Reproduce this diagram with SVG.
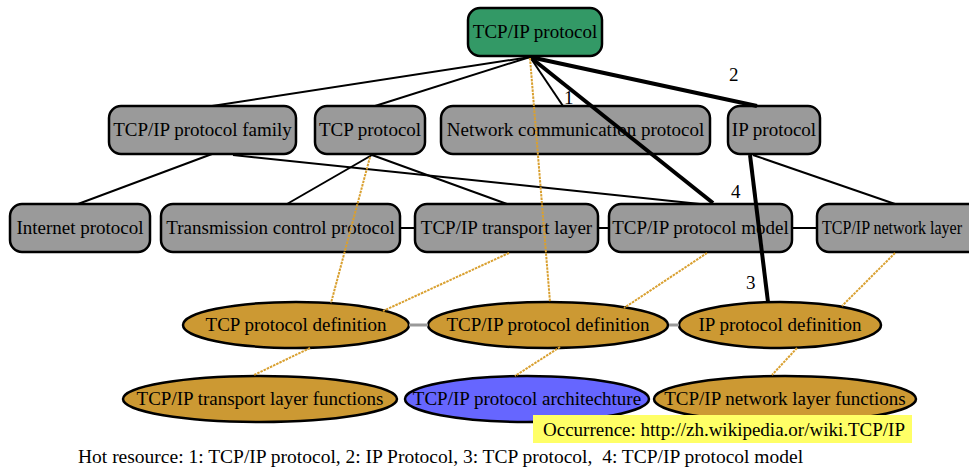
<svg xmlns="http://www.w3.org/2000/svg" width="969" height="470" viewBox="0 0 969 470">
<style>
text{font-family:"Liberation Serif","Times New Roman",serif;font-size:19px;fill:#000}
.c{text-anchor:middle}
.box{fill:#9a9a9a;stroke:#000;stroke-width:2.5}
.root{fill:#339966;stroke:#000;stroke-width:2.5}
.ell{fill:#cc9933;stroke:#000;stroke-width:2.5}
.blue{fill:#6666ff;stroke:#000;stroke-width:2.5}
.e{stroke:#000;stroke-width:2;fill:none}
.t{stroke:#000;stroke-width:4;fill:none}
.g{stroke:#999;stroke-width:3;fill:none}
.o{stroke:#d9a030;stroke-width:2;stroke-dasharray:2.5,1;fill:none}
.num{font-size:19px}
</style>
<rect width="969" height="470" fill="#fff"/>
<g id="n-root"><rect class="root" x="468" y="8" width="134" height="48" rx="12"/><text class="c" x="535" y="38">TCP/IP protocol</text></g>
<g id="n-family"><rect class="box" x="109" y="106" width="187" height="48" rx="12"/><text class="c" x="202.5" y="136">TCP/IP protocol family</text></g>
<g id="n-tcp"><rect class="box" x="315" y="106" width="110" height="48" rx="12"/><text class="c" x="370" y="136">TCP protocol</text></g>
<g id="n-netcomm"><rect class="box" x="441" y="106" width="269" height="48" rx="12"/><text class="c" x="575.5" y="136">Network communication protocol</text></g>
<g id="n-ip"><rect class="box" x="728" y="106" width="92" height="48" rx="12"/><text class="c" x="774" y="136">IP protocol</text></g>
<g id="n-internet"><rect class="box" x="10" y="204" width="140" height="48" rx="12"/><text class="c" x="80" y="234">Internet protocol</text></g>
<g id="n-transmission"><rect class="box" x="161" y="204" width="239" height="48" rx="12"/><text class="c" x="280.5" y="234">Transmission control protocol</text></g>
<g id="n-transport"><rect class="box" x="415" y="204" width="183" height="48" rx="12"/><text class="c" x="506.5" y="234">TCP/IP transport layer</text></g>
<g id="n-model"><rect class="box" x="609" y="204" width="183" height="48" rx="12"/><text class="c" x="700.5" y="234">TCP/IP protocol model</text></g>
<g id="n-network"><rect class="box" x="817" y="204" width="170" height="48" rx="12"/><text x="822" y="234" textLength="140" lengthAdjust="spacingAndGlyphs">TCP/IP network layer</text></g>
<g id="n-tcpdef"><ellipse class="ell" cx="296" cy="325" rx="113" ry="23"/><text class="c" x="296" y="331">TCP protocol definition</text></g>
<g id="n-tcpipdef"><ellipse class="ell" cx="548" cy="325" rx="120" ry="23"/><text class="c" x="548" y="331">TCP/IP protocol definition</text></g>
<g id="n-ipdef"><ellipse class="ell" cx="780" cy="325" rx="101" ry="23"/><text class="c" x="780" y="331">IP protocol definition</text></g>
<g id="n-transportfn"><ellipse class="ell" cx="260" cy="399" rx="137" ry="23"/><text class="c" x="260" y="405">TCP/IP transport layer functions</text></g>
<g id="n-arch"><ellipse class="blue" cx="527" cy="399" rx="122" ry="23"/><text class="c" x="527" y="405">TCP/IP protocol architechture</text></g>
<g id="n-networkfn"><ellipse class="ell" cx="785" cy="399" rx="131" ry="23"/><text class="c" x="785" y="405">TCP/IP network layer functions</text></g>
<g id="connectors">
<line class="e" x1="530" y1="57" x2="212" y2="106"/>
<line class="e" x1="530" y1="57" x2="375" y2="106"/>
<line class="e" x1="530" y1="57" x2="563" y2="106"/>
<line class="t" x1="530" y1="57" x2="757" y2="106"/>
<line class="t" x1="530" y1="57" x2="713" y2="203"/>
<line class="e" x1="212" y1="154" x2="78" y2="204"/>
<line class="e" x1="233" y1="155" x2="700" y2="204"/>
<line class="e" x1="372" y1="155" x2="287" y2="204"/>
<line class="e" x1="372" y1="155" x2="507" y2="204"/>
<line class="t" x1="750" y1="155" x2="768" y2="302"/>
<line class="e" x1="753" y1="155" x2="895" y2="204"/>
<line class="e" x1="400" y1="228" x2="415" y2="228"/>
<line class="e" x1="598" y1="228" x2="609" y2="228"/>
<line class="e" x1="792" y1="228" x2="817" y2="228"/>
<line class="g" x1="409" y1="325" x2="428" y2="325"/>
<line class="g" x1="669" y1="325" x2="679" y2="325"/>
<line class="o" x1="530" y1="58" x2="550" y2="302"/>
<line class="o" x1="370" y1="157" x2="331" y2="303"/>
<line class="o" x1="509" y1="253" x2="383" y2="311"/>
<line class="o" x1="310" y1="348" x2="254" y2="375"/>
<line class="o" x1="707" y1="253" x2="624" y2="308"/>
<line class="o" x1="560" y1="347" x2="515" y2="376"/>
<line class="o" x1="895" y1="253" x2="842" y2="306"/>
<line class="o" x1="797" y1="348" x2="772" y2="375"/>
<text class="num" x="564" y="104">1</text>
<text class="num" x="729" y="81">2</text>
<text class="num" x="746" y="289">3</text>
<text class="num" x="731" y="198">4</text>
</g>
<g id="occurrence"><rect x="533" y="415" width="379" height="28" fill="#ffff66"/><text x="543" y="436">Occurrence: http://zh.wikipedia.or/wiki.TCP/IP</text></g>
<g id="legend"><text x="78" y="463" style="font-size:19.5px" xml:space="preserve">Hot resource: 1: TCP/IP protocol, 2: IP Protocol, 3: TCP protocol,  4: TCP/IP protocol model</text></g>
</svg>
